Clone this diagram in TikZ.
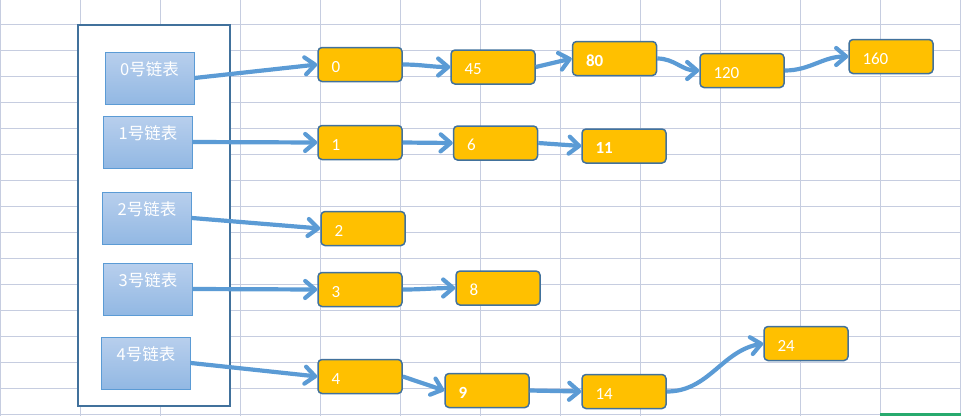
\documentclass[tikz,border=0pt]{standalone}
\usepackage{fontspec}
\setmainfont{Carlito}
\newfontfamily\cjk{Noto Sans CJK SC}
\usetikzlibrary{arrows.meta}

\definecolor{gridline}{RGB}{198,205,224}
\definecolor{nodefill}{RGB}{255,192,0}
\definecolor{nodeedge}{RGB}{65,113,156}
\definecolor{linkblue}{RGB}{91,155,213}
\definecolor{headtop}{RGB}{184,207,237}
\definecolor{headbot}{RGB}{146,184,227}
\definecolor{selgreen}{RGB}{40,170,110}

\tikzset{
  listhead/.style={draw=linkblue, line width=1pt, top color=headtop, bottom color=headbot,
    minimum width=89pt, minimum height=52pt, inner ysep=6pt, text height=17pt, text depth=23pt,
    text=white, font=\cjk\fontsize{16.5}{18}\selectfont},
  elem/.style={draw=nodeedge, line width=1.5pt, fill=nodefill, rounded corners=4pt,
    minimum height=34pt, text width=57pt, inner xsep=13.5pt, inner ysep=0pt, align=left,
    text height=15.8pt, text depth=0pt, text=white, font=\fontsize{17}{20}\selectfont},
  link/.style={draw=linkblue, line width=4.2pt, -{Straight Barb[length=10pt, width=17pt, round]}}
}

\begin{document}
\begin{tikzpicture}[x=1pt, y=-1pt]
  \useasboundingbox (0, 0) rectangle (961, 416);

  % sheet grid
  \foreach \x in {0, 80, ..., 960}
    \draw[gridline, line width=1pt] (\x, 0) -- (\x, 416);
  \foreach \y in {24, 50, ..., 414}
    \draw[gridline, line width=1pt] (0, \y) -- (961, \y);
  \fill[selgreen] (880, 413) rectangle (961, 416);

  \node[draw=nodeedge, line width=2pt, fill=white, minimum width=152pt, minimum height=381pt]
    (hashtab) at (154, 215.5) {};

  \node[listhead] (head0) at (149.5, 78) {0号链表};
  \node[listhead] (head1) at (148, 142) {1号链表};
  \node[listhead] (head2) at (147, 218) {2号链表};
  \node[listhead] (head3) at (148, 289) {3号链表};
  \node[listhead] (head4) at (146, 363) {4号链表};

  \node[elem] (n0) at (360, 64.5) {0};
  \node[elem] (n45) at (493, 67) {45};
  \node[elem] (n80) at (614.5, 58.5) {\textbf{80}};
  \node[elem] (n120) at (742, 70.5) {120};
  \node[elem] (n160) at (891, 56.5) {160};

  \node[elem] (n1) at (360, 142.5) {1};
  \node[elem] (n6) at (495.5, 143) {6};
  \node[elem] (n11) at (624, 146) {\textbf{11}};

  \node[elem] (n2) at (363, 228.5) {2};

  \node[elem] (n3) at (360, 289.5) {3};
  \node[elem] (n8) at (498, 288) {8};

  \node[elem] (n4) at (360, 376.5) {4};
  \node[elem] (n9) at (487, 390.5) {\textbf{9}};
  \node[elem] (n14) at (624, 391.5) {14};
  \node[elem] (n24) at (806, 343.5) {24};

  % chains
  \draw[link] (head0.east) -- (n0.west);
  \draw[link] (n0.east) to[out=0, in=180] (n45.west);
  \draw[link] (n45.east) -- (n80.west);
  \draw[link] (n80.east) to[out=0, in=180] (n120.west);
  \draw[link] (n120.east) to[out=0, in=180] (n160.west);

  \draw[link] (head1.east) -- (n1.west);
  \draw[link] (n1.east) -- (n6.west);
  \draw[link] (n6.east) -- (n11.west);

  \draw[link] (head2.east) -- (n2.west);

  \draw[link] (head3.east) -- (n3.west);
  \draw[link] (n3.east) to[out=0, in=180] (n8.west);

  \draw[link] (head4.east) -- (n4.west);
  \draw[link] (n4.east) -- (n9.west);
  \draw[link] (n9.east) -- (n14.west);
  \draw[link] (n14.east) to[out=0, in=190] (n24.west);
\end{tikzpicture}
\end{document}
